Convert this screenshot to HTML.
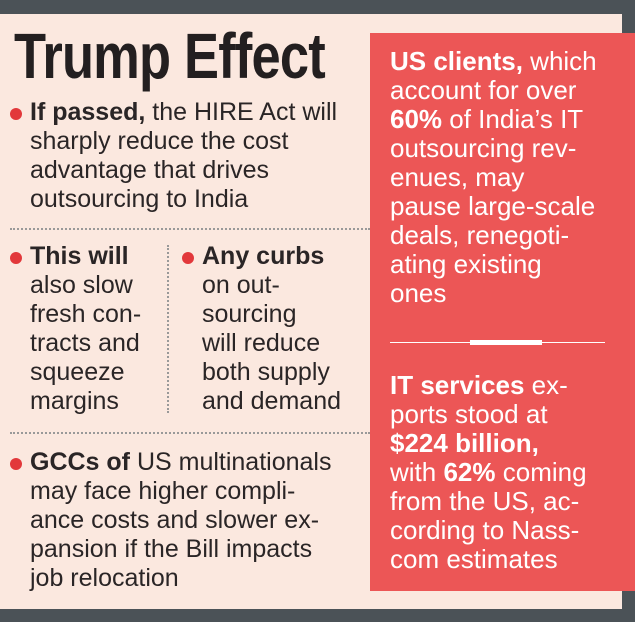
<!DOCTYPE html>
<html><head><meta charset="utf-8"><style>
body{margin:0;width:635px;height:622px;background:#4b5257;position:relative;overflow:hidden;font-family:"Liberation Sans Narrow","Liberation Sans",sans-serif;}
.panel{position:absolute;left:0;top:14px;width:622px;height:595px;background:#fbe8df;}
.red{position:absolute;left:370px;top:33px;width:265px;height:558px;background:#ec5656;}
.t{position:absolute;color:#2a2526;font-size:25px;line-height:29px;}
.w{position:absolute;color:#fff;font-size:26px;line-height:29px;font-weight:normal;}
b{font-weight:bold;}
.dot{position:absolute;width:12px;height:12px;border-radius:50%;background:#e2383b;}
h1{position:absolute;left:14px;top:20px;margin:0;font-size:64px;line-height:72px;color:#231f20;font-weight:bold;letter-spacing:-1px;transform:scaleX(0.82);transform-origin:0 0;white-space:nowrap;}
</style></head><body>
<div class="panel"></div>
<h1>Trump Effect</h1>
<div class="dot" style="left:10px;top:108px"></div>
<div class="t" style="left:30px;top:98px"><b>If passed,</b> the HIRE Act will<br>sharply reduce the cost<br>advantage that drives<br>outsourcing to India</div>
<div style="position:absolute;left:10px;top:228px;width:360px;border-top:2px dotted #999"></div>
<div class="dot" style="left:10px;top:252px"></div>
<div class="t" style="left:30px;top:242px"><b>This will</b><br>also slow<br>fresh con-<br>tracts and<br>squeeze<br>margins</div>
<div style="position:absolute;left:167px;top:245px;height:168px;border-left:2px dotted #999"></div>
<div class="dot" style="left:182px;top:252px"></div>
<div class="t" style="left:202px;top:242px"><b>Any curbs</b><br>on out-<br>sourcing<br>will reduce<br>both supply<br>and demand</div>
<div style="position:absolute;left:10px;top:432px;width:360px;border-top:2px dotted #999"></div>
<div class="dot" style="left:10px;top:458px"></div>
<div class="t" style="left:30px;top:448px"><b>GCCs of</b> US multinationals<br>may face higher compli-<br>ance costs and slower ex-<br>pansion if the Bill impacts<br>job relocation</div>
<div class="red"></div>
<div class="w" style="left:390px;top:47px"><b>US clients,</b> which<br>account for over<br><b>60%</b> of India’s IT<br>outsourcing rev-<br>enues, may<br>pause large-scale<br>deals, renegoti-<br>ating existing<br>ones</div>
<div style="position:absolute;left:390px;top:342px;width:215px;border-top:1px solid #fff"></div>
<div style="position:absolute;left:470px;top:340px;width:72px;height:5px;background:#fff"></div>
<div class="w" style="left:390px;top:371px"><b>IT services</b> ex-<br>ports stood at<br><b>$224 billion,</b><br>with <b>62%</b> coming<br>from the US, ac-<br>cording to Nass-<br>com estimates</div>
</body></html>
